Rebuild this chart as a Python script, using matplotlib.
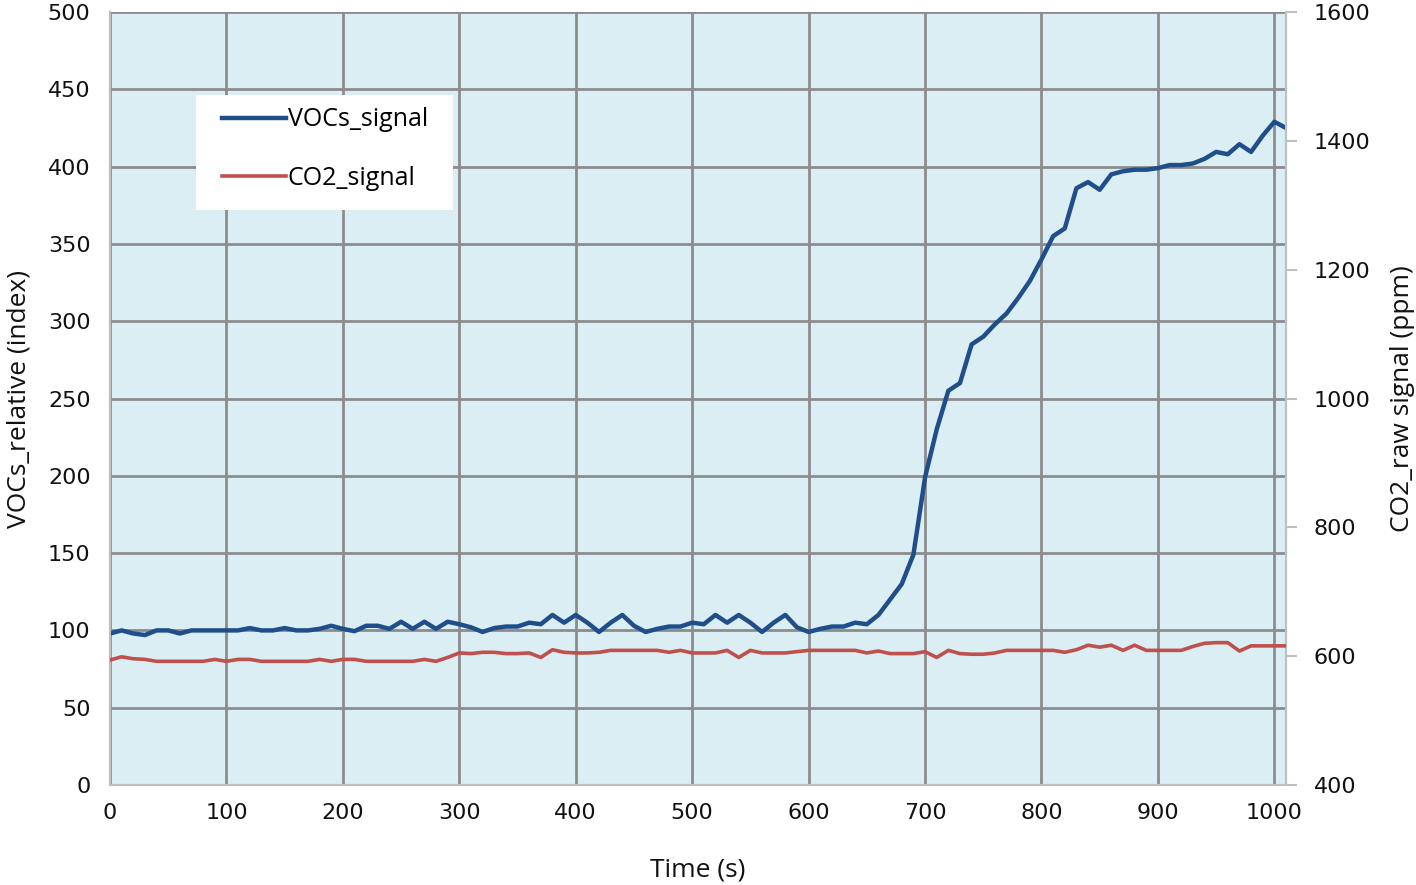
import matplotlib
matplotlib.use("Agg")
import matplotlib.pyplot as plt
from matplotlib.lines import Line2D
from matplotlib.patches import Rectangle

time_s = list(range(0, 1020, 10))

vocs_signal = [
    98, 100, 98, 97, 100, 100, 98, 100, 100, 100,
    100, 100, 101.5, 100, 100, 101.5, 100, 100, 101, 103,
    101, 99.5, 103, 103, 101, 105.6, 101, 105.6, 101, 105.6,
    104, 102, 99, 101.5, 102.5, 102.5, 105, 104, 110, 105,
    110, 105, 99, 105, 110, 103, 99, 101, 102.5, 102.5,
    105, 104, 110, 105, 110, 105, 99, 105, 110, 102,
    99, 101, 102.5, 102.5, 105, 104, 110, 120, 130, 149,
    199, 230, 255, 260, 285, 290, 298, 305, 315, 326,
    340, 355, 360, 386, 390, 385, 395, 397, 398, 398,
    399, 401, 401, 402, 405, 409.5, 408, 414.5, 409.5, 420,
    429, 425,
]

co2_signal = [
    594, 599, 596, 595, 592, 592, 592, 592, 592, 595,
    592, 595, 595, 592, 592, 592, 592, 592, 595, 592,
    595, 595, 592, 592, 592, 592, 592, 595, 592, 598,
    605, 604, 606, 606, 604, 604, 605, 598, 610, 606,
    605, 605, 606, 609, 609, 609, 609, 609, 606, 609,
    605, 605, 605, 609, 598, 609, 605, 605, 605, 607,
    609, 609, 609, 609, 609, 605, 608, 604, 604, 604,
    607, 598, 609, 604, 603, 603, 605, 609, 609, 609,
    609, 609, 606, 610, 617, 614, 617, 609, 617, 609,
    609, 609, 609, 615, 620, 621, 621, 608, 616, 616,
    616, 616,
]

x_ticks = [0, 100, 200, 300, 400, 500, 600, 700, 800, 900, 1000]
left_ticks = [0, 50, 100, 150, 200, 250, 300, 350, 400, 450, 500]
right_ticks = [400, 600, 800, 1000, 1200, 1400, 1600]

BLUE = "#1F4E8A"
RED = "#C0504D"
BG = "#DAEEF3"
GRID = "#8C8C8C"
SPINE = "#BFBFBF"
TXT = "#111111"
TICKFONT = "DejaVu Sans"
LABELFONT = "Open Sans"

W, H = 1416, 885
fig = plt.figure(figsize=(W/100, H/100), dpi=100)
ax = fig.add_axes([110/W, 1-785/H, (1286-110)/W, (785-12)/H])
ax.set_facecolor(BG)
ax2 = ax.twinx()

ax.plot(time_s, vocs_signal, color=BLUE, lw=3.2, zorder=3)
ax2.plot(time_s, co2_signal, color=RED, lw=2.6, zorder=3)

ax.set_xlim(0, 1010)
ax.set_ylim(0, 500)
ax2.set_ylim(400, 1600)
ax.set_xticks(x_ticks)
ax.set_yticks(left_ticks)
ax2.set_yticks(right_ticks)

ax.grid(True, color=GRID, lw=2, zorder=1)
ax.set_axisbelow(True)

for a in (ax, ax2):
    for s in a.spines.values():
        s.set_color(SPINE)
        s.set_linewidth(1.5)
    a.spines["top"].set_visible(False)

ax.tick_params(axis="x", length=0, pad=13, labelsize=16, labelcolor=TXT)
ax.tick_params(axis="y", length=0, pad=14, labelsize=16, labelcolor=TXT)
ax2.tick_params(axis="y", length=8, width=1.5, color=SPINE, pad=12, labelsize=16, labelcolor=TXT)
for lab in ax.get_xticklabels() + ax.get_yticklabels() + ax2.get_yticklabels():
    lab.set_family(TICKFONT)

ax.set_xlabel("Time (s)", fontsize=19, family=LABELFONT, labelpad=25, color=TXT)
ax.set_ylabel("VOCs_relative (index)", fontsize=19, family=LABELFONT, labelpad=12, color=TXT)
ax2.set_ylabel("CO2_raw signal (ppm)", fontsize=19, family=LABELFONT, labelpad=14, color=TXT)

# white legend panel
fig.patches.append(Rectangle((196/W, 1-210/H), (453-196)/W, (210-95)/H,
                             transform=fig.transFigure, facecolor="white",
                             edgecolor="none", zorder=5))

handles = [Line2D([], [], color=BLUE, lw=3.2), Line2D([], [], color=RED, lw=2.6)]
leg = fig.legend(handles, ["VOCs_signal", "CO2_signal"],
                 loc="center left", bbox_to_anchor=(222/W, 1-149/H),
                 frameon=False, prop={"family": LABELFONT, "size": 18},
                 handlelength=2.55, handletextpad=0.08, labelspacing=1.33,
                 borderpad=0, borderaxespad=0)
leg.set_zorder(6)

fig.savefig("out.png", dpi=100)
